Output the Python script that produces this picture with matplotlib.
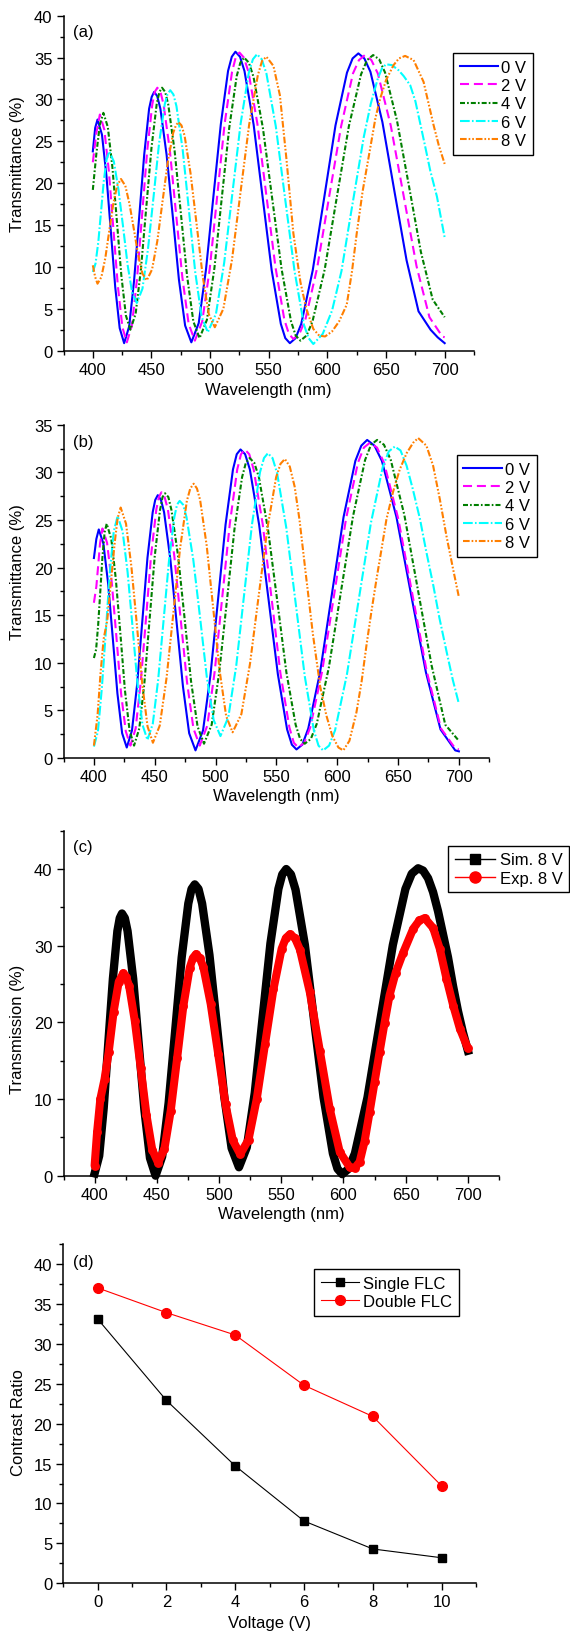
import matplotlib
matplotlib.use('Agg')
import matplotlib.pyplot as plt
from matplotlib.lines import Line2D
from matplotlib.ticker import MultipleLocator

plt.rcParams['font.family'] = ['Liberation Sans', 'DejaVu Sans']
plt.rcParams['font.size'] = 12
plt.rcParams['lines.scale_dashes'] = False

# ---------------- data: panel (a) ----------------
a0_x = [400, 402, 404, 407.8, 411.6, 415.4, 419.1, 422.9, 426.7, 431.0, 435.2, 439.5, 443.8, 448.0, 450.2, 452.3, 454.9, 457.6, 462.9, 468.2, 473.4, 478.7, 484, 490.3, 496.5, 502.8, 509.1, 515.3, 518.5, 521.6, 525.5, 529.3, 537.1, 544.8, 552.5, 560.3, 564.1, 568, 572.9, 577.7, 587.5, 597.2, 606.9, 616.7, 621.5, 626.4, 631.5, 636.7, 646.9, 657.2, 667.5, 677.7, 688, 694, 700]
a0_y = [23.8, 26.6, 27.6, 25.8, 20.9, 14.2, 7.6, 2.7, 0.9, 2.9, 8.4, 15.9, 23.4, 28.9, 30.3, 30.9, 30.4, 28.9, 23.4, 16.0, 8.5, 3.0, 1.0, 3.3, 9.7, 18.4, 27.0, 33.4, 35.1, 35.7, 35.1, 33.4, 27.0, 18.3, 9.6, 3.2, 1.5, 0.9, 1.5, 3.2, 9.6, 18.2, 26.9, 33.2, 34.9, 35.5, 34.9, 33.3, 27.3, 19.0, 10.8, 4.7, 2.5, 1.6, 0.9]
a2_x = [400, 403, 406, 409.8, 413.7, 417.5, 421.3, 425.2, 429, 433.3, 437.7, 442.0, 446.3, 450.7, 452.8, 455, 457.7, 460.3, 465.7, 471.0, 476.3, 481.7, 487, 493.3, 499.7, 506.0, 512.3, 518.7, 521.8, 525, 528.8, 532.7, 540.3, 548.0, 555.7, 563.3, 567.2, 571, 576.1, 581.2, 591.3, 601.5, 611.7, 621.8, 626.9, 632, 637.5, 643, 654, 665, 676, 687, 698, 700]
a2_y = [22.5, 26.0, 28.2, 26.4, 21.4, 14.6, 7.8, 2.8, 1.0, 3.0, 8.6, 16.2, 23.8, 29.4, 30.9, 31.4, 30.9, 29.4, 23.9, 16.3, 8.8, 3.2, 1.2, 3.5, 9.8, 18.4, 27.0, 33.3, 35.0, 35.6, 35.0, 33.3, 27.1, 18.5, 10.0, 3.7, 2.0, 1.4, 2.0, 3.7, 9.9, 18.4, 26.8, 33.1, 34.7, 35.3, 34.7, 33.1, 26.9, 18.5, 10.1, 4.0, 1.7, 1.6]
a4_x = [400, 403, 406, 409, 412.8, 416.7, 420.5, 424.3, 428.2, 432, 436.5, 441.0, 445.5, 450.0, 454.5, 456.8, 459, 461.7, 464.3, 469.7, 475.0, 480.3, 485.7, 491, 497.3, 503.7, 510.0, 516.3, 522.7, 525.8, 529, 533, 537, 545, 553, 561, 569, 573, 577, 582.2, 587.3, 597.7, 608.0, 618.3, 628.7, 633.8, 639, 644.1, 649.2, 659.3, 669.5, 679.7, 689.8, 700]
a4_y = [19.2, 23.5, 27.0, 28.4, 26.7, 21.9, 15.5, 9.0, 4.2, 2.5, 4.4, 9.7, 17.0, 24.2, 29.5, 30.9, 31.4, 30.9, 29.4, 23.9, 16.5, 9.0, 3.5, 1.5, 3.7, 9.9, 18.3, 26.6, 32.8, 34.4, 35.0, 34.4, 32.7, 26.6, 18.1, 9.7, 3.5, 1.8, 1.2, 1.8, 3.5, 9.7, 18.3, 26.8, 33.0, 34.7, 35.3, 34.8, 33.2, 27.5, 19.7, 11.8, 6.1, 4.0]
a6_x = [400, 402.3, 404.7, 407, 409.3, 411.7, 414, 417.9, 421.8, 425.8, 429.7, 433.6, 437.5, 442.3, 447.0, 451.8, 456.5, 461.3, 463.6, 466, 468.7, 471.3, 476.7, 482.0, 487.3, 492.7, 498, 505, 512, 519, 526, 533, 536.5, 540, 544, 548, 556, 564, 572, 580, 584, 588, 596, 604, 612, 619, 625, 631, 637, 643, 646.5, 650, 655, 660.6, 665, 670.6, 675, 679.2, 683.5, 687.7, 693.4, 700]
a6_y = [9.4, 10.4, 13.0, 16.6, 20.2, 22.8, 23.8, 22.6, 19.3, 14.8, 10.2, 6.9, 5.7, 7.4, 12.1, 18.4, 24.8, 29.4, 30.6, 31.1, 30.6, 29.2, 23.9, 16.7, 9.4, 4.1, 2.2, 4.4, 10.5, 18.8, 27.1, 33.2, 34.8, 35.4, 34.8, 33.1, 26.8, 18.1, 9.5, 3.1, 1.5, 0.8, 2.0, 4.8, 9.5, 15.5, 20.5, 25.5, 29.5, 32.5, 33.7, 34.2, 34.1, 33.5, 32.8, 31.7, 29.8, 27.1, 24.3, 21.5, 18.4, 13.5]
a8_x = [400, 402, 404, 407.3, 410.7, 414.0, 417.3, 420.7, 424, 427.7, 431.3, 435.0, 438.7, 442.3, 446, 450.5, 455.0, 459.5, 464.0, 468.5, 470.8, 473, 475.6, 478.2, 483.3, 488.5, 493.7, 498.8, 504, 511.3, 518.7, 526.0, 533.3, 540.7, 544.3, 548, 554, 559.5, 565, 571, 577, 582, 588, 593, 598, 604, 610, 616.5, 621, 625, 630, 636.4, 641, 645, 650, 656.4, 661, 666.3, 673.5, 682, 690.6, 695, 700]
a8_y = [10.2, 8.8, 8.0, 8.8, 11.1, 14.3, 17.4, 19.7, 20.5, 19.7, 17.5, 14.5, 11.4, 9.2, 8.4, 9.7, 13.1, 17.9, 22.6, 26.0, 26.9, 27.3, 26.9, 25.7, 21.2, 15.1, 8.9, 4.4, 2.8, 5.0, 10.9, 19.0, 27.0, 32.9, 34.6, 35.1, 34.0, 30.5, 23.0, 14.0, 8.2, 5.0, 2.6, 1.8, 1.7, 2.3, 3.5, 5.5, 9.5, 14.0, 19.0, 24.1, 27.8, 30.1, 32.3, 34.1, 34.9, 35.2, 34.7, 32.1, 26.9, 24.5, 22.3]

# ---------------- data: panel (b) ----------------
b0_x = [400, 402, 404, 407.8, 411.7, 415.5, 419.3, 423.2, 427, 431.3, 435.5, 439.8, 444.0, 448.3, 450.4, 452.5, 455.1, 457.7, 462.8, 468.0, 473.2, 478.3, 483.5, 489.7, 495.8, 502.0, 508.2, 514.3, 517.4, 520.5, 524.3, 528.2, 535.8, 543.5, 551.2, 558.8, 562.7, 566.5, 571.3, 576.2, 585.9, 595.6, 605.2, 614.9, 619.8, 624.6, 630.6, 636.7, 648.7, 660.8, 672.9, 684.9, 697, 700]
b0_y = [21.0, 23.0, 24.0, 22.5, 18.3, 12.6, 6.8, 2.6, 1.1, 2.9, 7.7, 14.4, 21.0, 25.8, 27.1, 27.6, 27.1, 25.8, 20.9, 14.2, 7.5, 2.6, 0.8, 2.9, 8.7, 16.6, 24.5, 30.3, 31.9, 32.4, 31.9, 30.3, 24.5, 16.7, 8.8, 3.0, 1.4, 0.9, 1.4, 3.1, 9.0, 17.2, 25.3, 31.2, 32.8, 33.4, 32.8, 31.2, 25.3, 17.1, 9.0, 3.0, 0.8, 0.7]
b2_x = [400, 402, 403.5, 405, 407, 410.8, 414.7, 418.5, 422.3, 426.2, 430, 434.3, 438.5, 442.8, 447.0, 451.3, 453.4, 455.5, 458.1, 460.8, 466.0, 471.3, 476.5, 481.8, 487, 493.2, 499.3, 505.5, 511.7, 517.8, 520.9, 524, 527.7, 531.3, 538.7, 546.0, 553.3, 560.7, 564.3, 568, 572.9, 577.8, 587.6, 597.4, 607.2, 617.0, 621.9, 626.8, 632.7, 638.5, 650.2, 661.9, 673.6, 685.3, 697, 700]
b2_y = [16.3, 18.0, 20.2, 22.5, 24.1, 22.6, 18.4, 12.7, 6.8, 2.8, 1.3, 3.1, 8.0, 14.6, 21.3, 26.1, 27.4, 27.9, 27.4, 26.1, 21.3, 14.6, 8.0, 3.1, 1.3, 3.4, 9.1, 16.9, 24.6, 30.3, 31.9, 32.4, 31.9, 30.3, 24.6, 16.8, 8.9, 3.2, 1.6, 1.1, 1.6, 3.2, 9.1, 17.1, 25.1, 31.0, 32.6, 33.1, 32.6, 31.0, 25.1, 17.1, 9.1, 3.1, 1.0, 0.9]
b4_x = [400, 401.8, 403.5, 405.3, 407.0, 408.8, 410.5, 414.3, 418.0, 421.8, 425.5, 429.3, 433, 437.3, 441.5, 445.8, 450.0, 454.3, 456.4, 458.5, 461.2, 463.8, 469.2, 474.5, 479.8, 485.2, 490.5, 496.8, 503.0, 509.3, 515.5, 521.8, 524.9, 528, 531.8, 535.6, 543.1, 550.7, 558.2, 565.8, 569.5, 573.3, 578.3, 583.2, 593.1, 603.1, 613.0, 622.9, 627.8, 632.8, 638.4, 644.0, 655.2, 666.4, 677.6, 688.8, 700]
b4_y = [10.5, 11.4, 14.0, 17.6, 21.1, 23.7, 24.6, 23.0, 18.8, 13.0, 7.1, 2.9, 1.3, 3.1, 7.9, 14.6, 21.2, 26.0, 27.4, 27.8, 27.4, 26.0, 21.2, 14.7, 8.1, 3.3, 1.5, 3.5, 9.0, 16.5, 24.0, 29.5, 31.0, 31.5, 31.0, 29.5, 24.0, 16.5, 9.0, 3.5, 2.0, 1.5, 2.0, 3.6, 9.5, 17.5, 25.4, 31.3, 32.9, 33.4, 32.9, 31.3, 25.5, 17.6, 9.7, 3.5, 1.8]
b6_x = [400, 403.3, 406.5, 409.8, 413.0, 416.3, 419.5, 423.6, 427.7, 431.8, 435.8, 439.9, 444, 448.4, 452.8, 457.3, 461.7, 466.1, 468.3, 470.5, 473.3, 476.1, 481.7, 487.3, 492.8, 498.4, 504, 510.5, 517.0, 523.5, 530.0, 536.5, 539.8, 543, 546.8, 550.6, 558.1, 565.7, 573.3, 580.8, 584.6, 588.4, 593.3, 598.2, 608.0, 617.9, 627.7, 637.5, 642.4, 647.3, 652, 657, 662, 668, 673, 679, 684, 690, 695, 700]
b6_y = [1.2, 2.8, 7.3, 13.3, 19.4, 23.8, 25.4, 23.8, 19.5, 13.7, 7.8, 3.5, 1.9, 3.6, 8.2, 14.5, 20.7, 25.3, 26.6, 27.0, 26.6, 25.3, 20.8, 14.7, 8.5, 4.0, 2.3, 4.3, 9.7, 17.2, 24.6, 30.0, 31.5, 32.0, 31.5, 29.9, 24.2, 16.4, 8.6, 2.9, 1.3, 0.8, 1.3, 2.9, 8.8, 16.8, 24.7, 30.6, 32.2, 32.7, 32.3, 30.7, 28.3, 25.1, 21.8, 18.1, 14.7, 11.1, 8.2, 5.7]
b8_x = [400, 403, 405.5, 408, 411, 414, 417, 419.5, 422, 426.4, 430.8, 435.3, 439.7, 444.1, 448.5, 454.1, 459.7, 465.3, 470.8, 476.4, 479.2, 482, 484.7, 487.3, 492.7, 498.0, 503.3, 508.7, 514, 521.2, 528.3, 535.5, 542.7, 549.8, 553.4, 557, 561, 565, 569, 574, 580, 586, 591, 596, 601, 605, 610, 615.8, 620, 624, 628, 632.3, 636.5, 640.5, 646, 651.4, 657, 662.4, 666.5, 673.3, 678.8, 684.3, 689.8, 695.3, 700]
b8_y = [1.3, 4.5, 9.0, 12.5, 14.5, 18.5, 22.5, 25.2, 26.3, 24.6, 20.1, 14.0, 7.8, 3.3, 1.6, 3.4, 8.4, 15.2, 22.0, 27.0, 28.3, 28.8, 28.3, 27.1, 22.3, 15.8, 9.2, 4.4, 2.7, 4.6, 9.9, 17.1, 24.2, 29.5, 30.9, 31.4, 30.6, 28.5, 25.0, 19.5, 13.0, 7.5, 4.5, 2.3, 1.1, 0.8, 1.8, 4.8, 8.0, 11.8, 15.3, 18.8, 22.0, 25.1, 28.0, 30.3, 32.0, 33.1, 33.6, 32.8, 30.7, 27.2, 23.3, 19.8, 16.9]

# ---------------- data: panel (c) ----------------
c_sim_x = [400, 403.7, 407.3, 411.0, 414.7, 418.3, 420.2, 422, 424.3, 426.5, 431.0, 435.5, 440.0, 444.5, 449, 454.3, 459.5, 464.8, 470.0, 475.3, 477.9, 480.5, 483.5, 486.4, 492.3, 498.3, 504.2, 510.1, 516, 522.3, 528.7, 535.0, 541.3, 547.7, 550.8, 554, 557.8, 561.5, 569.0, 576.5, 584.0, 591.5, 595.2, 599, 604.1, 609.2, 619.3, 629.5, 639.7, 649.8, 654.9, 660, 664, 668, 672, 676, 680, 684, 688, 692, 696, 700]
c_sim_y = [0.3, 2.6, 8.8, 17.3, 25.7, 31.9, 33.6, 34.2, 33.6, 31.9, 25.7, 17.1, 8.6, 2.3, 0.0, 2.5, 9.5, 19.0, 28.5, 35.5, 37.4, 38.0, 37.4, 35.5, 28.8, 19.6, 10.3, 3.6, 1.1, 3.7, 10.8, 20.6, 30.3, 37.4, 39.3, 40.0, 39.3, 37.3, 30.1, 20.1, 10.2, 2.9, 0.9, 0.2, 0.9, 2.9, 10.2, 20.2, 30.1, 37.4, 39.4, 40.1, 39.8, 38.8, 37.0, 34.5, 31.5, 28.5, 24.8, 21.5, 18.7, 16.3]
c_exp_x = [400, 402, 404.6, 408, 411.3, 415.3, 419.4, 423, 425.3, 427.7, 432.3, 437.0, 441.7, 446.3, 451, 456.1, 461.2, 466.3, 471.3, 476.4, 479, 481.5, 484.5, 487.4, 493.3, 499.3, 505.2, 511.1, 517, 523.7, 530.3, 537.0, 543.7, 550.3, 553.7, 557, 561, 565, 573, 581, 589, 597, 605, 609, 613, 617, 621, 625, 629, 633, 637, 642, 648, 656, 661, 665.3, 672.1, 677.4, 682.8, 688.2, 693.5, 700]
c_exp_y = [1.3, 5.7, 10.0, 12.6, 16.1, 21.4, 25.3, 26.4, 25.9, 24.8, 20.2, 14.1, 7.9, 3.4, 1.7, 3.5, 8.5, 15.3, 22.1, 27.1, 28.4, 28.9, 28.4, 27.2, 22.4, 15.9, 9.3, 4.6, 2.8, 4.7, 10.0, 17.2, 24.3, 29.6, 31.0, 31.5, 31.0, 29.5, 23.9, 16.3, 8.7, 3.1, 1.1, 1.0, 1.8, 4.5, 8.3, 12.2, 16.1, 19.9, 23.5, 26.5, 29.1, 32.2, 33.3, 33.6, 32.3, 29.6, 25.7, 22.2, 19.2, 16.6]

# ---------------- data: panel (d) ----------------
voltage = [0, 2, 4, 6, 8, 10]
single_flc = [33.1, 22.9, 14.7, 7.8, 4.3, 3.2]
double_flc = [37.0, 33.9, 31.1, 24.8, 20.9, 12.2]

volt_labels = ['0 V', '2 V', '4 V', '6 V', '8 V']
curve_colors = ['#0000FF', '#FF00FF', '#007F00', '#00FFFF', '#FF7F00']
curve_styles = ['-', (0, (6.5, 3.5)), (0, (3.6, 1.5, 1.2, 1.5)),
                (0, (7.0, 1.6, 1.2, 1.6)), (0, (4.8, 1.4, 1.2, 1.4, 1.2, 1.4))]

W, H = 570, 1633
fig = plt.figure(figsize=(W / 100, H / 100), dpi=100)


def add_axes(left, right, top, bottom):
    return fig.add_axes([left / W, 1 - bottom / H, (right - left) / W, (bottom - top) / H])


def style(ax, xmaj, xmin, ymaj, ymin):
    for s in ['top', 'right']:
        ax.spines[s].set_visible(False)
    for s in ['left', 'bottom']:
        ax.spines[s].set_linewidth(1.1)
    ax.xaxis.set_major_locator(MultipleLocator(xmaj))
    ax.xaxis.set_minor_locator(MultipleLocator(xmin))
    ax.yaxis.set_major_locator(MultipleLocator(ymaj))
    ax.yaxis.set_minor_locator(MultipleLocator(ymin))
    ax.tick_params(which='major', direction='out', length=5, width=1.0, labelsize=12, pad=3)
    ax.tick_params(which='minor', direction='out', length=3, width=1.0)


def leg(ax, handles, labels, x, y, hl=2.3, htp=0.2, ls=0.2):
    lg = ax.legend(handles, labels, loc='upper left', bbox_to_anchor=(x / W, 1 - y / H),
                   bbox_transform=fig.transFigure, borderaxespad=0, fancybox=False,
                   edgecolor='black', framealpha=1, handlelength=hl, handletextpad=htp,
                   labelspacing=ls, borderpad=0.4, fontsize=12)
    lg.get_frame().set_linewidth(1.0)
    return lg


def ylab(ax, text, xpix, left, right, ypix, top, bottom):
    ax.set_ylabel(text, fontsize=12)
    ax.yaxis.set_label_coords((xpix - left) / (right - left), 1 - (ypix - top) / (bottom - top))
    ax.yaxis.label.set_va('center')


def xlab(ax, text, ypix, top, bottom):
    ax.set_xlabel(text, fontsize=12)
    ax.xaxis.set_label_coords(0.5, 1 - (ypix - top) / (bottom - top))
    ax.xaxis.label.set_va('center')


# ---- panel (a)
L, R, T, B = 63.5, 474, 16.7, 351.7
ax = add_axes(L, R, T, B)
xs = [a0_x, a2_x, a4_x, a6_x, a8_x]
ys = [a0_y, a2_y, a4_y, a6_y, a8_y]
hs = []
for x, y, c, st, lb in zip(xs, ys, curve_colors, curve_styles, volt_labels):
    h, = ax.plot(x, y, color=c, linestyle=st, lw=1.5, label=lb)
    hs.append(h)
ax.set_xlim(375, 725)
ax.set_ylim(0, 40)
style(ax, 50, 25, 5, 2.5)
ylab(ax, 'Transmittance (%)', 18, L, R, 164, T, B)
xlab(ax, 'Wavelength (nm)', 391, T, B)
ax.text(9.5 / (R - L), 1 - 8 / (B - T), '(a)', transform=ax.transAxes, va='top', ha='left', fontsize=12)
leg(ax, hs, volt_labels, 453, 54)

# ---- panel (b)
L, R, T, B = 63.5, 489.3, 425.7, 759
ax = add_axes(L, R, T, B)
xs = [b0_x, b2_x, b4_x, b6_x, b8_x]
ys = [b0_y, b2_y, b4_y, b6_y, b8_y]
hs = []
for x, y, c, st, lb in zip(xs, ys, curve_colors, curve_styles, volt_labels):
    h, = ax.plot(x, y, color=c, linestyle=st, lw=1.5, label=lb)
    hs.append(h)
ax.set_xlim(375, 725)
ax.set_ylim(0, 35)
style(ax, 50, 25, 5, 2.5)
ylab(ax, 'Transmittance (%)', 18, L, R, 571.7, T, B)
xlab(ax, 'Wavelength (nm)', 796.5, T, B)
ax.text(9.5 / (R - L), 1 - 9 / (B - T), '(b)', transform=ax.transAxes, va='top', ha='left', fontsize=12)
leg(ax, hs, volt_labels, 456.7, 456)

# ---- panel (c)
L, R, T, B = 63.5, 499, 831.7, 1176.7
ax = add_axes(L, R, T, B)
ax.plot(c_sim_x, c_sim_y, color='black', lw=6.0,
        solid_joinstyle='round', solid_capstyle='projecting', clip_on=False)
ax.plot(c_exp_x, c_exp_y, color='#FF0000', lw=5.8, marker='o', ms=6.4, markeredgewidth=0,
        solid_joinstyle='round', solid_capstyle='round', clip_on=False)
ax.set_xlim(375, 725)
ax.set_ylim(0, 45)
style(ax, 50, 25, 10, 5)
ylab(ax, 'Transmission (%)', 18, L, R, 1029.5, T, B)
xlab(ax, 'Wavelength (nm)', 1215, T, B)
ax.text(9.5 / (R - L), 1 - 8 / (B - T), '(c)', transform=ax.transAxes, va='top', ha='left', fontsize=12)
hc = [Line2D([0], [0], color='black', lw=1, marker='s', ms=7),
      Line2D([0], [0], color='#FF0000', lw=1, marker='o', ms=8)]
leg(ax, hc, ['Sim. 8 V', 'Exp. 8 V'], 448, 846.7, hl=2.4, htp=0.3)

# ---- panel (d)
L, R, T, B = 63.3, 476, 1245, 1584.3
ax = add_axes(L, R, T, B)
h1, = ax.plot(voltage, single_flc, color='black', lw=0.8, marker='s', ms=6)
h2, = ax.plot(voltage, double_flc, color='#FF0000', lw=0.8, marker='o', ms=7)
ax.set_xlim(-1, 11)
ax.set_ylim(0, 42.5)
style(ax, 2, 1, 5, 2.5)
ylab(ax, 'Contrast Ratio', 18.3, L, R, 1422.5, T, B)
xlab(ax, 'Voltage (V)', 1623.5, T, B)
ax.text(9.5 / (R - L), 1 - 10 / (B - T), '(d)', transform=ax.transAxes, va='top', ha='left', fontsize=12)
leg(ax, [h1, h2], ['Single FLC', 'Double FLC'], 314, 1270, hl=2.3, htp=0.25)

fig.savefig('out.png', dpi=100)
